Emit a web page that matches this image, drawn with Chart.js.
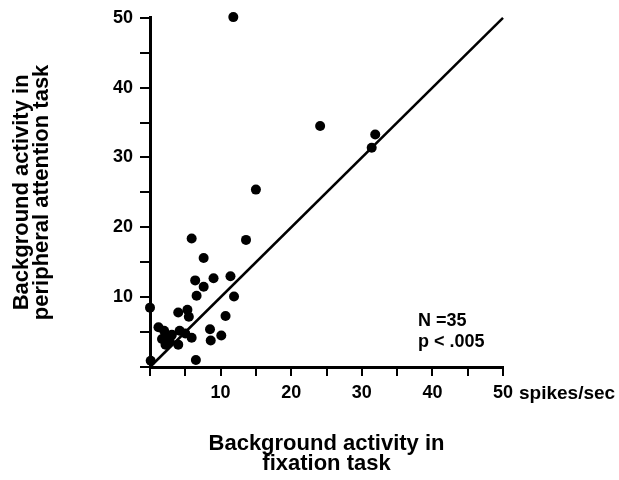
<!DOCTYPE html>
<html>
<head>
<meta charset="utf-8">
<script src="https://cdn.jsdelivr.net/npm/chart.js@4/dist/chart.umd.min.js"></script>
<style>
  html, body { margin: 0; padding: 0; background: #fff; }
  #wrap { width: 619px; height: 480px; }
</style>
</head>
<body>
<div id="wrap"><canvas id="c" width="619" height="480"></canvas></div>
<script>
// Background activity (spikes/sec) in fixation task (x) and peripheral attention task (y)
const fixation  = [11.8, 24.1, 31.9, 31.4, 15.0, 5.9, 13.6, 7.6, 6.4, 9.0, 11.4, 7.6, 6.6, 11.9,
                   0.0, 4.0, 5.3, 5.5, 10.7, 1.2, 2.0, 2.4, 4.2, 5.9, 2.8, 4.0, 8.5, 10.1, 8.6,
                   6.5, 0.1, 1.7, 3.1, 5.0, 2.2];
const attention = [50.1, 34.5, 33.3, 31.4, 25.4, 18.4, 18.2, 15.6, 12.4, 12.7, 13.0, 11.5, 10.2, 10.1,
                   8.5, 7.8, 8.2, 7.2, 7.3, 5.7, 5.2, 4.4, 5.2, 4.2, 3.7, 3.2, 5.4, 4.5, 3.8,
                   1.0, 0.9, 4.0, 4.6, 4.8, 3.2];
const identityLine = [0, 50];
const tickLabels = [10, 20, 30, 40, 50];
const xUnit = 'spikes/sec';
const statsText = ['N =35', 'p < .005'];
const xTitle = ['Background activity in', 'fixation task'];
const yTitle = ['Background activity in', 'peripheral attention task'];

const FONT = '"Liberation Sans", Arial, Helvetica, sans-serif';

const points = fixation.map((x, i) => ({ x: x, y: attention[i] }));
const linePts = identityLine.map(v => ({ x: v, y: v }));

const annot = {
  id: 'annot',
  afterDraw(chart) {
    const ctx = chart.ctx;
    const xs = chart.scales.x;
    ctx.save();
    ctx.fillStyle = '#000';
    ctx.font = 'bold 18px ' + FONT;
    ctx.textBaseline = 'alphabetic';
    ctx.textAlign = 'left';
    ctx.fillText(statsText[0], 418, 326);
    ctx.fillText(statsText[1], 418, 347);
    const px = xs.getPixelForValue(50);
    ctx.font = 'bold 19px ' + FONT;
    ctx.fillText(xUnit, px + 16, 399);
    ctx.restore();
  }
};

function tickCb(v) { return tickLabels.includes(v) ? String(v) : ''; }

new Chart(document.getElementById('c'), {
  type: 'scatter',
  data: {
    datasets: [
      {
        type: 'line',
        data: linePts,
        borderColor: '#000',
        borderWidth: 2.5,
        pointRadius: 0,
        fill: false,
        clip: false
      },
      {
        data: points,
        backgroundColor: '#000',
        borderColor: '#000',
        borderWidth: 0,
        pointRadius: 5,
        clip: false
      }
    ]
  },
  options: {
    responsive: false,
    animation: false,
    events: [],
    layout: { padding: { top: 16, right: 116, left: 0, bottom: 0 } },
    plugins: { legend: { display: false }, tooltip: { enabled: false } },
    scales: {
      x: {
        type: 'linear',
        min: 0, max: 50,
        afterFit(s) { s.height = 113; },
        border: { display: true, color: '#000', width: 3 },
        grid: { drawOnChartArea: false, drawTicks: true, tickLength: 9, color: '#000', lineWidth: 2 },
        ticks: {
          stepSize: 5, autoSkip: false, maxRotation: 0, padding: 6,
          color: '#000', font: { family: FONT, size: 18, weight: 'bold' },
          callback: tickCb
        },
        title: {
          display: true, text: xTitle, color: '#000',
          font: { family: FONT, size: 22, weight: 'bold', lineHeight: 0.9 },
          padding: { top: 0, bottom: 6 }
        }
      },
      y: {
        type: 'linear',
        min: 0, max: 50,
        afterFit(s) { s.width = 150; },
        border: { display: true, color: '#000', width: 3 },
        grid: { drawOnChartArea: false, drawTicks: true, tickLength: 10, color: '#000', lineWidth: 2 },
        ticks: {
          stepSize: 5, autoSkip: false, padding: 7,
          color: '#000', font: { family: FONT, size: 18, weight: 'bold' },
          callback: tickCb
        },
        title: {
          display: true, text: yTitle, color: '#000',
          font: { family: FONT, size: 22, weight: 'bold', lineHeight: 0.9 },
          padding: { top: 12, bottom: 0 }
        }
      }
    }
  },
  plugins: [annot]
});
</script>
</body>
</html>
